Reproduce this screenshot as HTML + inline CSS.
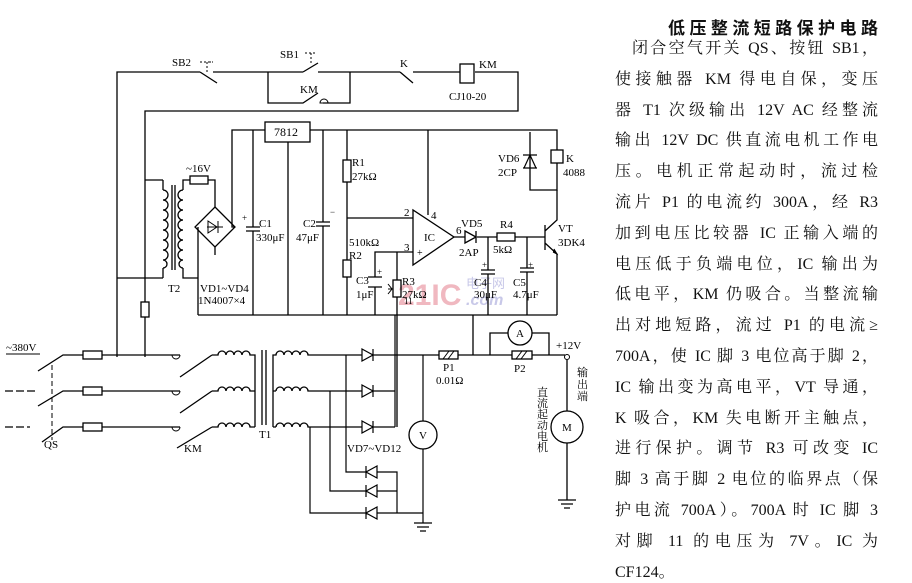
<!DOCTYPE html>
<html><head><meta charset="utf-8"><style>
html,body{margin:0;padding:0;background:#fff;}
body{width:912px;height:582px;position:relative;overflow:hidden;}
svg{position:absolute;left:0;top:0;}
.t{position:absolute;left:615px;width:263px;font-family:"Liberation Serif","Noto Serif CJK SC",serif;font-size:16px;line-height:20px;color:#111;text-align:justify;text-align-last:justify;white-space:nowrap;}
.title{position:absolute;left:668px;top:14px;width:210px;font-family:"Liberation Sans","Noto Sans CJK SC",sans-serif;font-weight:bold;font-size:17px;text-align-last:justify;color:#111;}
</style></head><body>
<svg width="912" height="582" viewBox="0 0 912 582" font-family="Liberation Serif, serif" font-size="11" fill="none" stroke="#000" stroke-width="1.3">
<text x="398" y="305" font-family="Liberation Sans, sans-serif" font-weight="bold" font-size="30" fill="#f0b8c0" stroke="none">21IC</text>
<text x="466" y="288" font-family="Liberation Sans, Noto Sans CJK SC, sans-serif" font-size="13" fill="#c8c8e8" stroke="none">电子网</text>
<text x="466" y="305" font-family="Liberation Sans, sans-serif" font-style="italic" font-weight="bold" font-size="16" fill="#c8c8e8" stroke="none">.com</text>

<path d="M117 357 V72 H200 M200 72 L217 83 M213 72 H303 M303 72 L318 63 M318 72 H400 M400 72 L413 83 M413 72 H460 M475 72 H518 V111 H145 V302 M145 317 V357"/>
<rect x="460" y="64" width="14" height="19"/>
<path d="M268 72 V103 H303 L318 93 M323 103 H350 V72"/>
<path d="M320 103 a4 4 0 0 1 8 0 z" stroke-width="1"/>
<path d="M207 72 V62 H213 M200 62 H213" stroke-dasharray="2 2" stroke-width="1"/>
<path d="M311 63 V53 M305 53 H317" stroke-dasharray="2 2" stroke-width="1"/>
<rect x="141" y="302" width="8" height="15"/>
<g fill="#000" stroke="none" font-size="11">
<text x="172" y="66">SB2</text><text x="280" y="58">SB1</text><text x="300" y="93">KM</text>
<text x="400" y="67">K</text><text x="479" y="68">KM</text><text x="449" y="100">CJ10-20</text>
</g>

<path d="M145 180 H163 M117 278 H163 M163 180 V190 M163 268 V278"/>
<path d="M163 190 a5 5 0 0 1 0 10 a5 5 0 0 1 0 10 a5 5 0 0 1 0 10 a5 5 0 0 1 0 10 a5 5 0 0 1 0 10 a5 5 0 0 1 0 10 a5 5 0 0 1 0 10 a4 4 0 0 1 0 8"/>
<path d="M172 185 V270 M175 185 V270"/>
<path d="M183 190 a5 5 0 0 0 0 10 a5 5 0 0 0 0 10 a5 5 0 0 0 0 10 a5 5 0 0 0 0 10 a5 5 0 0 0 0 10 a5 5 0 0 0 0 10 a5 5 0 0 0 0 10 a4 4 0 0 0 0 8"/>
<path d="M183 190 V180 H190 M208 180 H215 V207 M183 268 V278 H198 V250 M198 227 V315 M215 247 V255"/>
<rect x="190" y="176" width="18" height="8"/>
<path d="M215 207 L235 227 L215 247 L195 227 Z"/>
<path d="M207 227 H223 M208 221 L217 227 L208 233 Z M218 221 V233" stroke-width="1"/>
<path d="M235 227 H232 V130 H265 M310 130 H557 V150 M557 163 V190 H530 V132"/>
<rect x="265" y="122" width="45" height="20"/>
<text x="274" y="136" fill="#000" stroke="none" font-size="12">7812</text>
<path d="M198 315 H557 M253 130 V227 M253 231 V315 M246 227 H260 M246 231 H260 M288 142 V315"/>
<path d="M323 130 V222 M323 226 V315 M316 222 H330 M316 226 H330"/>
<g fill="#000" stroke="none">
<text x="186" y="172">~16V</text><text x="168" y="292">T2</text>
<text x="200" y="292">VD1~VD4</text><text x="198" y="304">1N4007×4</text>
<text x="242" y="221" font-size="9">+</text><text x="259" y="227">C1</text><text x="256" y="241">330μF</text>
<text x="303" y="227">C2</text><text x="296" y="241">47μF</text><text x="330" y="215" font-size="9">−</text>
</g>
<path d="M198 283 V305" stroke-width="0.8"/>

<path d="M347 130 V160 M347 182 V260 M347 277 V315 M347 218 H413 M428 130 V215"/>
<rect x="343" y="160" width="8" height="22"/><rect x="343" y="260" width="8" height="17"/>
<path d="M413 210 V265 L454 237 Z"/>
<path d="M413 252 H375 V277 M375 287 V315 M368 277 H382 M368 287 H382 M397 252 V280 M397 297 V315 M397 315 V427"/>
<rect x="393" y="280" width="8" height="17"/>
<path d="M388 289 H393 M388 284 L392 289 L388 294" stroke-width="1"/>
<path d="M454 237 H465 M477 237 H545 M465 231 L476 237 L465 243 Z M476 231 V243"/>
<rect x="497" y="233" width="18" height="8" fill="#fff"/>
<path d="M488 237 V270 M488 274 V315 M481 270 H495 M481 274 H495 M527 237 V268 M527 272 V315 M520 268 H534 M520 272 H534"/>
<path d="M545 225 V250 M545 231 L557 220 V190 M545 243 L557 254 V315"/>
<path d="M553 252 L557 254 L554 249" fill="#000" stroke-width="1"/>
<rect x="551" y="150" width="12" height="13"/>
<path d="M523 168 H537 M530 155 L524 168 M530 155 L536 168 M523 155 H537" stroke-width="1.2"/>
<g fill="#000" stroke="none">
<text x="352" y="166">R1</text><text x="352" y="180">27kΩ</text>
<text x="349" y="246">510kΩ</text><text x="349" y="259">R2</text>
<text x="356" y="284">C3</text><text x="356" y="298">1μF</text><text x="377" y="275" font-size="9">+</text>
<text x="402" y="285">R3</text><text x="402" y="298">27kΩ</text>
<text x="404" y="216">2</text><text x="431" y="219">4</text><text x="404" y="251">3</text>
<text x="417" y="256" font-size="10">+</text><text x="424" y="241">IC</text><text x="456" y="234">6</text>
<text x="461" y="227">VD5</text><text x="459" y="256">2AP</text>
<text x="500" y="228">R4</text><text x="493" y="253">5kΩ</text>
<text x="482" y="268" font-size="9">+</text><text x="474" y="286">C4</text><text x="474" y="298">30μF</text>
<text x="528" y="268" font-size="9">+</text><text x="513" y="286">C5</text><text x="513" y="298">4.7μF</text>
<text x="498" y="162">VD6</text><text x="498" y="176">2CP</text>
<text x="566" y="162">K</text><text x="563" y="176">4088</text>
<text x="558" y="232">VT</text><text x="558" y="246">3DK4</text>
<text x="404" y="304" font-size="9">11</text>
</g>

<g fill="#000" stroke="none"><text x="6" y="351">~380V</text><text x="44" y="448">QS</text><text x="184" y="452">KM</text><text x="259" y="438">T1</text></g>
<path d="M6 354 H40" stroke-width="1"/>
<path d="M5 391 H35 M5 427 H30" stroke-dasharray="8 3"/>
<path d="M38 371 L63 355 H180 M38 406 L63 391 H180 M42 442 L63 427 H180"/>
<path d="M52 365 V440" stroke-dasharray="5 3" stroke-width="1"/>
<rect x="83" y="351" width="19" height="8" fill="#fff"/><rect x="83" y="387" width="19" height="8" fill="#fff"/><rect x="83" y="423" width="19" height="8" fill="#fff"/>
<path d="M180 355 a4 4 0 0 1 -8 0 M180 391 a4 4 0 0 1 -8 0 M180 427 a4 4 0 0 1 -8 0" stroke-width="1"/>
<path d="M180 377 L212 355 M180 413 L212 391 M177 448 L212 427"/>
<path d="M212 355 H218 a4 4 0 0 1 8 0 a4 4 0 0 1 8 0 a4 4 0 0 1 8 0 a4 4 0 0 1 8 0 H255 V427"/>
<path d="M212 391 H218 a4 4 0 0 1 8 0 a4 4 0 0 1 8 0 a4 4 0 0 1 8 0 a4 4 0 0 1 8 0 H255 M212 427 H218 a4 4 0 0 1 8 0 a4 4 0 0 1 8 0 a4 4 0 0 1 8 0 a4 4 0 0 1 8 0 H255"/>
<path d="M262 350 V425 M266 350 V425"/>
<path d="M273 427 V355 H276 a4 4 0 0 1 8 0 a4 4 0 0 1 8 0 a4 4 0 0 1 8 0 a4 4 0 0 1 8 0 H362 M276 391 a4 4 0 0 1 8 0 a4 4 0 0 1 8 0 a4 4 0 0 1 8 0 a4 4 0 0 1 8 0 H362 M276 427 a4 4 0 0 1 8 0 a4 4 0 0 1 8 0 a4 4 0 0 1 8 0 a4 4 0 0 1 8 0 H362 M273 391 H276 M273 427 H276"/>
<g stroke-width="1.2">
<path d="M362 349 L373 355 L362 361 Z M373 349 V361 M362 385 L373 391 L362 397 Z M373 385 V397 M362 421 L373 427 L362 433 Z M373 421 V433"/>
<path d="M373 355 H439 M373 391 H395 M373 427 H395 M395 315 V427"/>
<path d="M346 355 V472 H366 M330 391 V491 H366 M310 427 V513 H366"/>
<path d="M377 466 L366 472 L377 478 Z M366 466 V478 M377 485 L366 491 L377 497 Z M366 485 V497 M377 507 L366 513 L377 519 Z M366 507 V519"/>
<path d="M377 472 H397 V513 M377 491 H397 M377 513 H423 M423 449 V523 M423 355 V421 M414 523 H432 M417 527 H429 M420 531 H426"/>
</g>
<circle cx="423" cy="435" r="14" fill="#fff"/>
<text x="419" y="439" fill="#000" stroke="none" font-size="11">V</text>
<path d="M458 355 H512 M532 355 H565 M473 355 V315 M490 355 V333 H508 M532 333 H549 V355"/>
<rect x="439" y="351" width="19" height="8" fill="#fff"/>
<path d="M443 359 L449 351 M448 359 L454 351" stroke-width="1"/>
<rect x="512" y="351" width="20" height="8" fill="#fff"/>
<path d="M516 359 L522 351 M521 359 L527 351" stroke-width="1"/>
<circle cx="520" cy="333" r="12" fill="#fff"/>
<text x="516" y="337" fill="#000" stroke="none" font-size="11">A</text>
<circle cx="567" cy="357" r="2.5" fill="#fff" stroke-width="1"/>
<path d="M567 360 V411 M567 443 V500 M558 500 H576 M561 504 H573 M564 508 H570"/>
<circle cx="567" cy="427" r="16" fill="#fff"/>
<text x="562" y="431" fill="#000" stroke="none" font-size="11">M</text>
<g fill="#000" stroke="none">
<text x="443" y="371">P1</text><text x="436" y="384">0.01Ω</text><text x="514" y="372">P2</text>
<text x="556" y="349">+12V</text><text x="347" y="452">VD7~VD12</text>
</g>
<g fill="#000" stroke="none" font-family="Liberation Serif, Noto Serif CJK SC, serif" font-size="11">
<text x="577" y="376">输</text><text x="577" y="388">出</text><text x="577" y="400">端</text>
<text x="537" y="396">直</text><text x="537" y="407">流</text><text x="537" y="418">起</text><text x="537" y="429">动</text><text x="537" y="440">电</text><text x="537" y="451">机</text>
</g>
</svg>

<div class="title">低压整流短路保护电路</div>
<div class="t" style="top:39px;left:632px;width:246px">闭合空气开关 QS、按钮 SB1，</div>
<div class="t" style="top:70px">使接触器 KM 得电自保，变压</div>
<div class="t" style="top:101px">器 T1 次级输出 12V AC 经整流</div>
<div class="t" style="top:131px">输出 12V DC 供直流电机工作电</div>
<div class="t" style="top:162px">压。电机正常起动时，流过检</div>
<div class="t" style="top:193px">流片 P1 的电流约 300A，经 R3</div>
<div class="t" style="top:224px">加到电压比较器 IC 正输入端的</div>
<div class="t" style="top:255px">电压低于负端电位，IC 输出为</div>
<div class="t" style="top:285px">低电平，KM 仍吸合。当整流输</div>
<div class="t" style="top:316px">出对地短路，流过 P1 的电流≥</div>
<div class="t" style="top:347px">700A，使 IC 脚 3 电位高于脚 2，</div>
<div class="t" style="top:378px">IC 输出变为高电平，VT 导通，</div>
<div class="t" style="top:409px">K 吸合，KM 失电断开主触点，</div>
<div class="t" style="top:439px">进行保护。调节 R3 可改变 IC</div>
<div class="t" style="top:470px">脚 3 高于脚 2 电位的临界点（保</div>
<div class="t" style="top:501px">护电流 700A）。700A 时 IC 脚 3</div>
<div class="t" style="top:532px">对脚 11 的电压为 7V。IC 为</div>
<div class="t" style="top:563px;text-align-last:left">CF124。</div>
</body></html>
